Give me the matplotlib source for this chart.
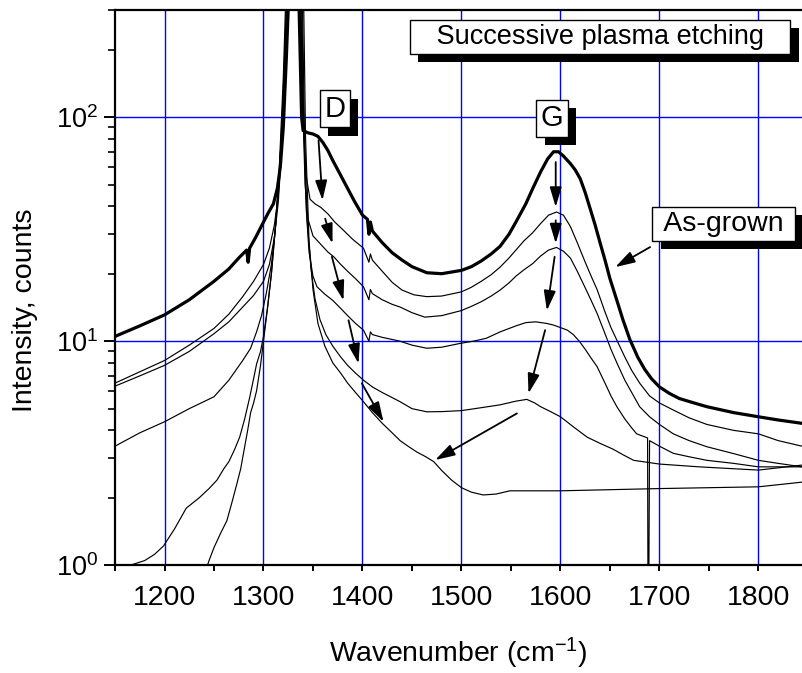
import matplotlib.pyplot as plt
import matplotlib.patheffects as pe
from matplotlib.ticker import MultipleLocator, LogLocator, NullFormatter

plt.rcParams['font.family'] = ['Liberation Sans', 'DejaVu Sans']
plt.rcParams['mathtext.fontset'] = 'custom'
plt.rcParams['mathtext.rm'] = 'Liberation Sans'
plt.rcParams['mathtext.it'] = 'Liberation Sans:italic'

# Raman spectra: wavenumber (cm-1) and counts
# as-grown sample
wn_0 = [1150, 1175, 1200, 1225, 1250, 1265, 1275, 1283, 1284.5, 1286, 1292, 1300, 1305, 1310,
        1314, 1317, 1320, 1323, 1326, 1332, 1336, 1338.5, 1340, 1345, 1350, 1355, 1360, 1365,
        1370, 1377, 1385, 1392, 1400, 1405, 1406.5, 1408, 1410, 1420, 1430, 1440, 1450, 1465,
        1480, 1500, 1510, 1520, 1530, 1539, 1548, 1555, 1565, 1572, 1580, 1587, 1593, 1598,
        1603, 1610, 1615, 1620, 1625, 1630, 1635, 1640, 1645, 1650, 1657, 1663, 1670, 1678,
        1685, 1692, 1700, 1710, 1720, 1735, 1748, 1775, 1800, 1820, 1844]
cnt_0 = [10.5, 11.7, 13.1, 15.3, 18.5, 21, 23.5, 25.5, 22.5, 26, 29, 34, 37.5, 41,
         48, 60, 90, 180, 400, 3000, 300, 100, 87, 85, 84, 82, 77, 71,
         64, 56, 48, 42, 36.5, 35, 30, 34, 31, 27.5, 24.8, 23, 21.5, 20.2,
         20, 20.7, 21.5, 22.8, 24.5, 26.5, 30, 34, 41, 48, 57, 65, 70, 70,
         67, 62, 58, 53, 46, 39, 33, 27.5, 23, 19, 15.2, 12.5, 10.2, 8.5,
         7.5, 6.8, 6.25, 5.85, 5.55, 5.3, 5.1, 4.8, 4.6, 4.45, 4.3]

# etching step 1
wn_1 = [1150, 1175, 1200, 1225, 1250, 1265, 1279, 1290, 1300, 1306, 1311, 1315, 1319, 1323,
        1326, 1332, 1337, 1340, 1343, 1347, 1352, 1358, 1365, 1372, 1380, 1390, 1401, 1406.5,
        1408, 1410, 1420, 1430, 1440, 1452, 1465, 1480, 1500, 1510, 1520, 1530, 1539, 1548,
        1555, 1563, 1572, 1580, 1588, 1596, 1603, 1610, 1617, 1625, 1631, 1637, 1645, 1651,
        1657, 1665, 1672, 1680, 1690, 1700, 1714, 1730, 1748, 1775, 1800, 1820, 1844]
cnt_1 = [6.5, 7.3, 8.2, 9.6, 11.4, 13.2, 15.8, 18.5, 22, 26, 33, 45, 80, 200,
         500, 3000, 400, 100, 55, 43, 41, 39.5, 37, 34, 31.5, 28.5, 26, 22.5,
         24.5, 23, 20.5, 18.3, 16.9, 16.1, 15.8, 15.9, 16.6, 17.4, 18.5, 19.8, 21.4, 23.5,
         25.5, 28, 30.5, 33.5, 36.5, 37.7, 36.5, 32.5, 27.5, 22.5, 19.5, 17, 13.5, 11.5,
         10.1, 8.5, 7.4, 6.5, 5.7, 5.3, 4.93, 4.55, 4.25, 4.0, 3.86, 3.6, 3.4]

# etching step 2
wn_2 = [1150, 1175, 1200, 1225, 1250, 1265, 1279, 1290, 1300, 1306, 1311, 1315, 1319, 1323,
        1326, 1332, 1337, 1339.5, 1342, 1345, 1350, 1358, 1365, 1371, 1378, 1385, 1393, 1401,
        1406.5, 1408, 1410, 1420, 1430, 1438, 1450, 1463, 1480, 1500, 1510, 1520, 1530, 1539,
        1548, 1555, 1563, 1572, 1580, 1588, 1596, 1603, 1610, 1617, 1625, 1631, 1637, 1645,
        1651, 1657, 1665, 1672, 1680, 1690, 1700, 1714, 1730, 1748, 1775, 1800, 1820, 1844]
cnt_2 = [6.3, 7.0, 7.8, 9.0, 10.8, 12.2, 14.2, 16, 18.5, 22, 29, 42, 80, 200,
         500, 3000, 500, 120, 50, 35, 29.5, 27, 25, 23.8, 22, 20.5, 19, 17.5,
         15.3, 17, 16.3, 15.3, 14.6, 14.2, 13.4, 12.8, 13, 13.7, 14.3, 15, 15.9, 16.9,
         18.2, 19.5, 20.8, 22.2, 24, 25.5, 26.2, 25.2, 23.5, 20.5, 17.3, 15.2, 13.3, 10.8,
         9.2, 8, 6.7, 5.9, 5.1, 4.6, 4.25, 3.86, 3.6, 3.38, 3.15, 2.94, 2.85, 2.75]

# etching step 3
wn_3 = [1150, 1175, 1200, 1225, 1250, 1265, 1279, 1287, 1293, 1298, 1303, 1308, 1312, 1316,
        1320, 1324, 1332, 1338, 1340.5, 1343, 1346, 1350, 1354, 1362, 1370, 1378, 1385, 1393,
        1401, 1406.5, 1408, 1410, 1420, 1438, 1450, 1465, 1480, 1500, 1512, 1525, 1539, 1555,
        1565, 1575, 1586, 1593, 1600, 1607, 1613, 1619, 1625, 1631, 1637, 1645, 1651, 1657,
        1665, 1672, 1677, 1688, 1688.5, 1689, 1690, 1700, 1714, 1730, 1748, 1775, 1800, 1844]
cnt_3 = [3.4, 3.9, 4.37, 5.0, 5.65, 6.7, 8.2, 9.3, 11, 13, 16.5, 22, 32, 55,
         120, 400, 3000, 500, 100, 40, 25, 19.5, 17.5, 16.2, 15.2, 14, 13, 12,
         11.2, 10, 11, 10.7, 10.4, 10, 9.6, 9.3, 9.4, 9.8, 10, 10.3, 11, 11.7,
         12.1, 12.2, 12, 11.8, 11.5, 11.2, 10.7, 10, 9.2, 8.4, 7.7, 6.5, 5.7, 5.1,
         4.5, 4.1, 3.86, 3.7, 0.5, 0.5, 3.6, 3.4, 3.16, 3.05, 2.94, 2.85, 2.75, 2.75]

# etching step 4
wn_4 = [1150, 1165, 1180, 1190, 1199, 1210, 1222, 1235, 1245, 1253, 1260, 1265, 1271, 1276,
        1281, 1286, 1290, 1293, 1297, 1300, 1304, 1308, 1312, 1316, 1320, 1323, 1332, 1339,
        1341.5, 1344, 1348, 1352, 1357, 1363, 1370, 1378, 1385, 1393, 1401, 1410, 1420, 1430,
        1438, 1450, 1465, 1480, 1500, 1520, 1539, 1555, 1566, 1574, 1580, 1590, 1600, 1613,
        1627, 1640, 1653, 1664, 1674, 1700, 1740, 1800, 1844]
cnt_4 = [0.8, 1.0, 1.05, 1.12, 1.22, 1.45, 1.8, 2.0, 2.2, 2.4, 2.7, 2.9, 3.3, 3.74,
         4.5, 5.6, 6.8, 7.9, 9, 10.5, 14, 20, 32, 60, 150, 400, 3000, 400,
         80, 35, 21, 15.5, 12.5, 10.7, 9.5, 8.5, 7.8, 7.2, 6.7, 6.25, 5.9, 5.6,
         5.37, 5.0, 4.84, 4.85, 4.9, 5.05, 5.2, 5.4, 5.5, 5.3, 5.1, 4.85, 4.6, 4.15,
         3.73, 3.5, 3.3, 3.1, 2.94, 2.83, 2.75, 2.66, 2.8]

# etching step 5
wn_5 = [1240, 1245, 1250, 1257, 1263, 1268, 1273, 1277, 1280, 1284, 1287, 1290, 1293, 1297,
        1300, 1304, 1308, 1312, 1316, 1320, 1324, 1332, 1340, 1342.5, 1346, 1350, 1355, 1362,
        1370, 1378, 1385, 1393, 1401, 1410, 1420, 1430, 1438, 1446, 1455, 1464, 1472, 1480,
        1490, 1500, 1510, 1522, 1535, 1549, 1600, 1700, 1800, 1844]
cnt_5 = [0.9, 1.05, 1.2, 1.4, 1.58, 1.9, 2.3, 2.7, 3.2, 4.0, 4.8, 5.3, 6.0, 7.8,
         10, 14, 20, 32, 55, 130, 400, 3000, 500, 80, 28, 17, 12, 9.5,
         8, 7.2, 6.5, 5.9, 5.37, 4.8, 4.3, 3.9, 3.6, 3.4, 3.2, 3.05, 2.9, 2.65,
         2.4, 2.22, 2.12, 2.06, 2.08, 2.15, 2.15, 2.2, 2.24, 2.35]

fig = plt.figure(figsize=(8.02, 6.73), dpi=100)
ax = fig.add_axes([0.1434, 0.160, 0.8566, 0.825])

ax.plot(wn_0, cnt_0, color='black', lw=2.3, zorder=4)
for wn, cnt in [(wn_1, cnt_1), (wn_2, cnt_2), (wn_3, cnt_3), (wn_4, cnt_4), (wn_5, cnt_5)]:
    ax.plot(wn, cnt, color='black', lw=0.85, zorder=4)

ax.set_yscale('log')
ax.set_xlim(1150, 1844)
ax.set_ylim(1, 300)

ax.xaxis.set_major_locator(MultipleLocator(100))
ax.xaxis.set_minor_locator(MultipleLocator(50))
ax.yaxis.set_major_locator(LogLocator(base=10))
ax.yaxis.set_minor_locator(LogLocator(base=10, subs=range(2, 10)))
ax.yaxis.set_minor_formatter(NullFormatter())

ax.grid(True, which='major', color='blue', lw=1.0, zorder=1)
ax.set_axisbelow(True)
for s in ['left', 'bottom', 'top']:
    ax.spines[s].set_linewidth(1.6)
ax.spines['right'].set_visible(False)

ax.tick_params(axis='x', which='both', direction='out', length=4, width=1.4, labelsize=20.5, pad=10)
ax.tick_params(axis='y', which='major', direction='out', length=8, width=1.4, labelsize=19.5, pad=4)
ax.tick_params(axis='y', which='minor', direction='out', length=5, width=1.2)

ax.set_xlabel(r'Wavenumber (cm$^{\mathdefault{-1}}$)', fontsize=20.5, labelpad=18)
ax.set_ylabel('Intensity, counts', fontsize=20.5)
ax.yaxis.set_label_coords(-0.112, 0.46)


def boxed(x, y, s, fs):
    t = ax.text(x, y, s, fontsize=fs, ha='center', va='center', zorder=6,
                bbox=dict(boxstyle='square,pad=0.15', fc='white', ec='black', lw=1))
    t.get_bbox_patch().set_path_effects(
        [pe.withSimplePatchShadow(offset=(6, -6), shadow_rgbFace='black', alpha=1)])
    return t


boxed(1640, 228, '   Successive plasma etching   ', 19.5)
boxed(1372, 108.8, 'D', 21)
boxed(1591.6, 98.7, 'G', 21)
boxed(1765, 33.4, ' As-grown ', 20.5)

# arrows showing the decrease of the D and G bands
arrow_from = [(1355.6, 78.7), (1362.3, 35.2), (1369.1, 23.8), (1385.9, 12.4), (1399.4, 6.48),
              (1595.2, 63), (1595.2, 34.6), (1594.1, 23.8), (1584.5, 11.2), (1556, 4.76),
              (1690.6, 26.3)]
arrow_to = [(1359.6, 42.5), (1369.7, 27.3), (1380.8, 15.2), (1396, 7.95), (1421.2, 4.37),
            (1595.2, 39.7), (1595.2, 27.3), (1586.3, 13.7), (1567.7, 5.85), (1473.4, 2.95),
            (1655.3, 21.4)]
for a, b in zip(arrow_from, arrow_to):
    ax.annotate('', xy=b, xytext=a, zorder=7,
                arrowprops=dict(arrowstyle='-|>,head_length=0.6,head_width=0.18',
                                color='black', lw=1.3, shrinkA=0, shrinkB=0,
                                mutation_scale=20))

fig.savefig('out.png', dpi=100)
